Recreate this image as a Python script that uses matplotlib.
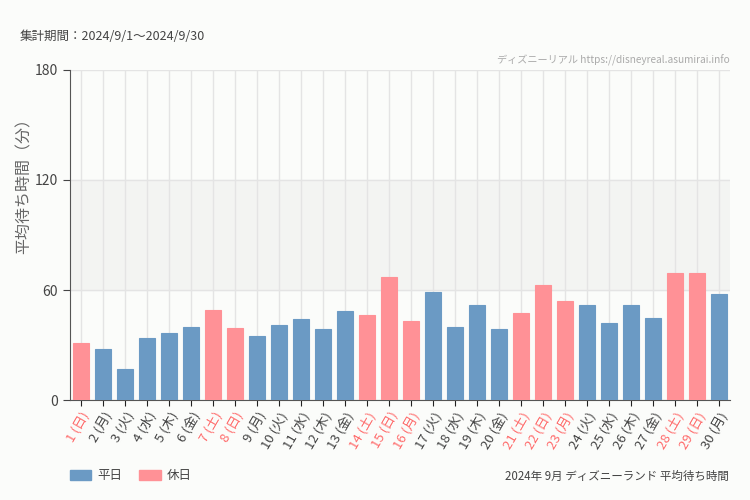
import numpy as np
import matplotlib.pyplot as plt
from matplotlib.patches import Patch

plt.rcParams['font.family'] = ['Noto Sans CJK JP', 'DejaVu Sans']

# September 2024, Tokyo Disneyland average wait (minutes)
days = list(range(1, 31))
weekdays = ['日', '月', '火', '水', '木', '金', '土', '日', '月', '火',
            '水', '木', '金', '土', '日', '月', '火', '水', '木', '金',
            '土', '日', '月', '火', '水', '木', '金', '土', '日', '月']
holiday = [1, 0, 0, 0, 0, 0, 1, 1, 0, 0,
           0, 0, 0, 1, 1, 1, 0, 0, 0, 0,
           1, 1, 1, 0, 0, 0, 0, 1, 1, 0]
wait = [31, 28, 17, 34, 36.5, 40, 49, 39.5, 35, 41,
        44, 39, 48.5, 46.5, 67, 43, 59, 40, 52, 39,
        47.5, 62.5, 54, 52, 42, 52, 45, 69.5, 69.5, 58]

blue = '#6b9ac4'
pink = '#ff9196'
label_pink = '#ff6b6b'
label_gray = '#444444'
bg = '#fbfcfa'

fig = plt.figure(figsize=(7.5, 5), dpi=100, facecolor=bg)
ax = fig.add_axes([70 / 750, 0.2, 660 / 750, 0.66], facecolor=bg)

x = np.arange(len(days))
colors = [pink if h else blue for h in holiday]
ax.bar(x, wait, width=0.7, color=colors, edgecolor=colors, linewidth=0.8, zorder=3)

ax.axhspan(60, 120, color='#f3f4f2', zorder=0)
ax.set_xlim(-0.5, len(days) - 0.5)
ax.set_ylim(0, 180)
ax.set_yticks([0, 60, 120, 180])
ax.set_xticks(x)
labels = [f'{d} ({w})' for d, w in zip(days, weekdays)]
ax.set_xticklabels(labels, rotation=60, ha='right', rotation_mode='anchor', fontsize=9.5)
for lab, h in zip(ax.get_xticklabels(), holiday):
    lab.set_color(label_pink if h else label_gray)

ax.grid(True, color='#e4e4e4', linewidth=1, zorder=1)
ax.set_axisbelow(True)
for s in ['top', 'right']:
    ax.spines[s].set_visible(False)
for s in ['left', 'bottom']:
    ax.spines[s].set_color('#555555')
ax.tick_params(axis='y', labelsize=10, colors='#444444', length=5)
ax.tick_params(axis='x', length=4, color='#222222', pad=3)

ax.set_ylabel('平均待ち時間（分）', fontsize=11.5, color='#666666')
ax.yaxis.set_label_coords(-0.056, 0.66)

fig.text(20 / 750, 1 - 37 / 500, '集計期間：2024/9/1～2024/9/30', fontsize=9,
         color='#444444', va='center')
fig.text(730 / 750, 1 - 60 / 500, 'ディズニーリアル https://disneyreal.asumirai.info',
         fontsize=7.3, color='#aaaaaa', va='center', ha='right')
fig.text(729 / 750, 1 - 476 / 500, '2024年 9月 ディズニーランド 平均待ち時間',
         fontsize=8.3, color='#444444', va='center', ha='right')

handles = [Patch(color=blue, label='平日'), Patch(color=pink, label='休日')]
fig.legend(handles=handles, loc='center left', bbox_to_anchor=(70 / 750, 1 - 476 / 500),
           ncol=2, frameon=False, fontsize=9, handlelength=1.7, handleheight=0.9,
           columnspacing=1.4, handletextpad=0.45, labelcolor='#444444',
           borderpad=0, borderaxespad=0)

fig.savefig('out.png', dpi=100, facecolor=bg)
